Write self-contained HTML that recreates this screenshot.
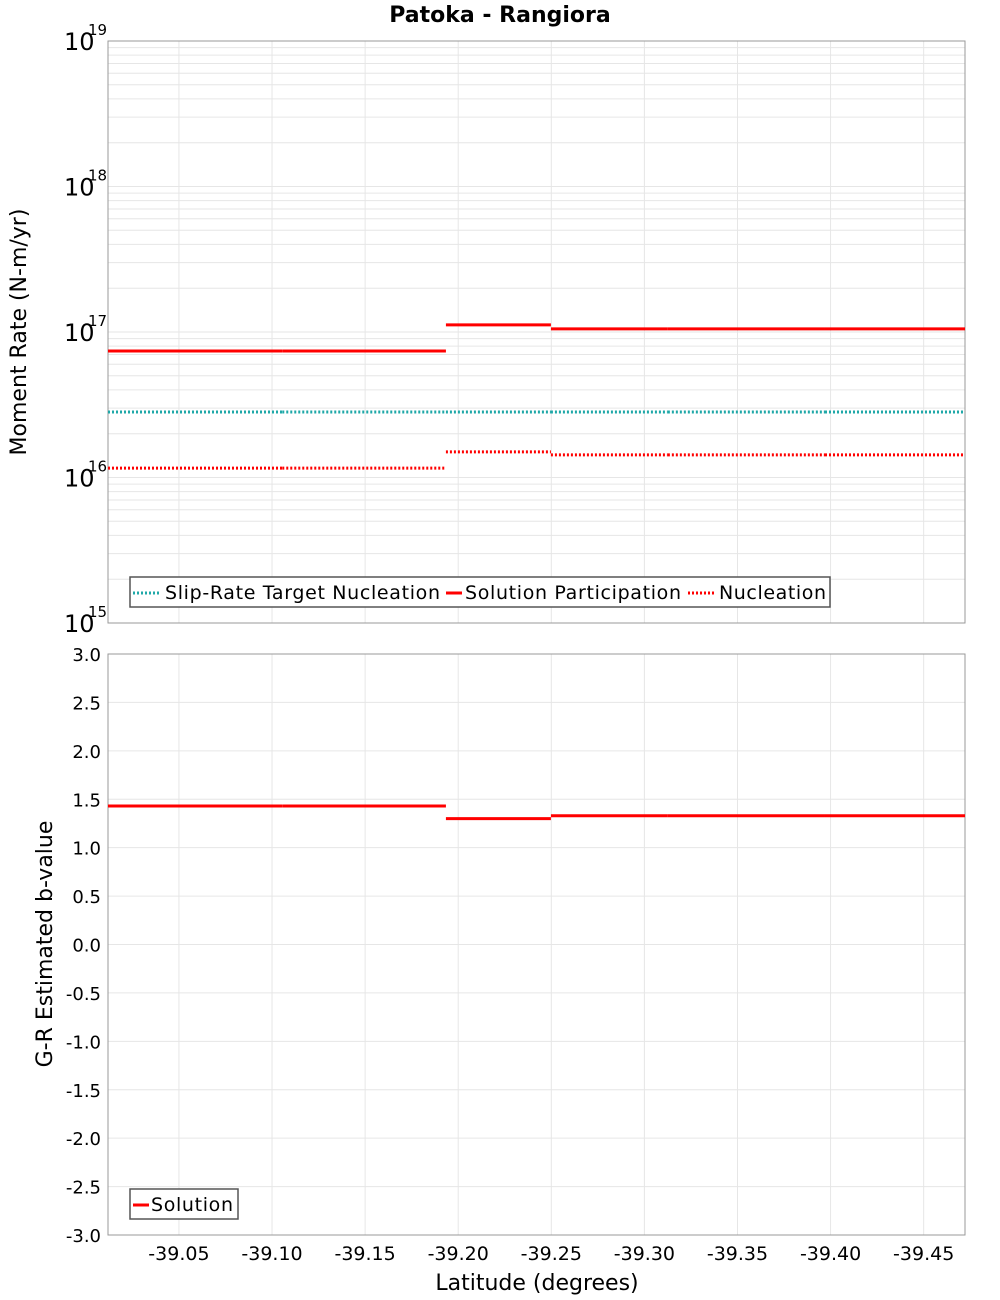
<!DOCTYPE html>
<html><head><meta charset="utf-8"><style>
body{margin:0;background:#fff}
svg{display:block;font-family:"DejaVu Sans","Liberation Sans",sans-serif}
</style></head><body>
<svg id="chart" width="1000" height="1300" viewBox="0 0 1000 1300" xmlns="http://www.w3.org/2000/svg"></svg>
<script>
// data
const segStart = [-39.0119, -39.1055, -39.1934, -39.2498, -39.3126, -39.3970];
const segEnd   = [-39.1055, -39.1934, -39.2498, -39.3126, -39.3970, -39.4722];
const targetNucleation = [2.82e16, 2.82e16, 2.82e16, 2.82e16, 2.82e16, 2.82e16];
const solutionParticipation = [7.4e16, 7.4e16, 1.12e17, 1.05e17, 1.05e17, 1.05e17];
const nucleation = [1.16e16, 1.16e16, 1.5e16, 1.43e16, 1.43e16, 1.43e16];
const bValue = [1.43, 1.43, 1.30, 1.33, 1.33, 1.33];
const xTicks = [-39.05, -39.10, -39.15, -39.20, -39.25, -39.30, -39.35, -39.40, -39.45];
const xTickLabels = ["-39.05","-39.10","-39.15","-39.20","-39.25","-39.30","-39.35","-39.40","-39.45"];
const logDecades = [15, 16, 17, 18, 19];
const bTicks = [-3.0,-2.5,-2.0,-1.5,-1.0,-0.5,0.0,0.5,1.0,1.5,2.0,2.5,3.0];

const L=108,R=965,T1=41,B1=623,T2=654,B2=1235;
const xMin=-39.0119,xMax=-39.4722;
const X=v=>L+(v-xMin)/(xMax-xMin)*(R-L);
const Y1=v=>B1-(Math.log10(v)-15)/4*(B1-T1);
const Y2=v=>B2-(v+3)/6*(B2-T2);
const svg=document.getElementById('chart');
const NS='http://www.w3.org/2000/svg';
function mk(tag,attrs,parent){const e=document.createElementNS(NS,tag);for(const k in attrs)e.setAttribute(k,attrs[k]);(parent||svg).appendChild(e);return e;}
function txt(s,attrs,parent){const e=mk('text',attrs,parent);e.textContent=s;return e;}

const title=txt('Patoka - Rangiora',{x:500,y:22,'text-anchor':'middle','font-size':22,'font-weight':'bold'});



// top plot
const g1=mk('g',{});


mk('rect',{x:L,y:T1,width:R-L,height:B1-T1,fill:'#fff'},g1);
for(let d=15;d<19;d++)for(let m=1;m<10;m++){const y=Y1(m*Math.pow(10,d));mk('line',{x1:L,x2:R,y1:y,y2:y,stroke:'#e6e6e6','stroke-width':1},g1);}
xTicks.forEach(t=>{mk('line',{x1:X(t),x2:X(t),y1:T1,y2:B1,stroke:'#e6e6e6'},g1);});
logDecades.forEach(d=>{const y=Y1(Math.pow(10,d));const t=txt('10',{x:64,y:y+9,'font-size':24},g1);

txt(String(d),{x:88,y:y-6,'font-size':15},g1);});
mk('rect',{x:L,y:T1,width:R-L,height:B1-T1,fill:'none',stroke:'#999'},g1);
const yt1=txt('Moment Rate (N-m/yr)',{x:0,y:0,'font-size':22,'text-anchor':'middle',transform:'translate(26,332) rotate(-90)'},g1);

function series(arr,Yf,color,dash,name,g){arr.forEach((v,i)=>{const l=mk('line',{x1:X(segStart[i]),x2:X(segEnd[i]),y1:Yf(v),y2:Yf(v),stroke:color,'stroke-width':3},g);
if(dash)l.setAttribute('stroke-dasharray',dash);
});}
series(targetNucleation,Y1,'#1fa8a8','2,2','target-nucleation-segment',g1);
series(nucleation,Y1,'#ff0000','2,2','nucleation-segment',g1);
series(solutionParticipation,Y1,'#ff0000',null,'solution-participation-segment',g1);
const lg=mk('g',{},g1);
mk('rect',{x:130,y:577,width:700,height:30,fill:'#fff',stroke:'#555','stroke-width':1.5},lg);
mk('line',{x1:133,x2:161,y1:593,y2:593,stroke:'#1fa8a8','stroke-width':3,'stroke-dasharray':'2,2'},lg);
txt('Slip-Rate Target Nucleation',{x:165,y:599,'font-size':19,textLength:275},lg);
mk('line',{x1:446,x2:462,y1:593,y2:593,stroke:'#f00','stroke-width':3},lg);
txt('Solution Participation',{x:465,y:599,'font-size':19,textLength:216},lg);
mk('line',{x1:688,x2:716,y1:593,y2:593,stroke:'#f00','stroke-width':3,'stroke-dasharray':'2,2'},lg);
txt('Nucleation',{x:719,y:599,'font-size':19,textLength:107},lg);

// bottom plot
const g2=mk('g',{});


bTicks.forEach(t=>{const y=Y2(t);mk('line',{x1:L,x2:R,y1:y,y2:y,stroke:'#e6e6e6'},g2);
const l=txt(t.toFixed(1),{x:101,y:y+7,'font-size':18,'text-anchor':'end'},g2);
});
xTicks.forEach((t,i)=>{mk('line',{x1:X(t),x2:X(t),y1:T2,y2:B2,stroke:'#e6e6e6'},g2);
const l=txt(xTickLabels[i],{x:X(t),y:1260,'font-size':19,'text-anchor':'middle'},g2);
});
mk('rect',{x:L,y:T2,width:R-L,height:B2-T2,fill:'none',stroke:'#999'},g2);
series(bValue,Y2,'#ff0000',null,'b-value-segment',g2);
const yt2=txt('G-R Estimated b-value',{x:0,y:0,'font-size':22,'text-anchor':'middle',transform:'translate(52,944) rotate(-90)'},g2);

const xt=txt('Latitude (degrees)',{x:537,y:1290,'font-size':22,'text-anchor':'middle'},g2);

const lg2=mk('g',{},g2);
mk('rect',{x:130,y:1189,width:108,height:30,fill:'#fff',stroke:'#555','stroke-width':1.5},lg2);
mk('line',{x1:133,x2:149,y1:1205,y2:1205,stroke:'#f00','stroke-width':3},lg2);
txt('Solution',{x:151,y:1211,'font-size':19,textLength:82},lg2);
</script>
</body></html>
